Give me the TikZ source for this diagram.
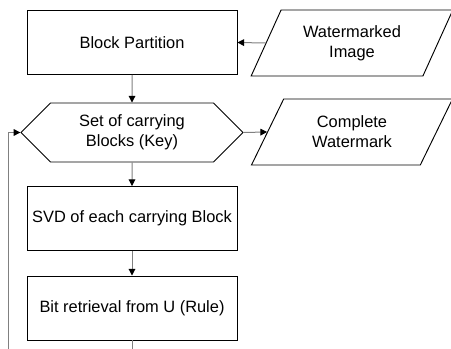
\documentclass[tikz,border=0pt]{standalone}
\usepackage{fontspec}
\setmainfont{Liberation Sans}
\usetikzlibrary{arrows.meta,shapes.geometric,shapes.symbols}
\tikzset{>={Triangle[length=5pt,width=5pt,color=black]}}
\tikzset{
  stepbox/.style={draw,line width=.7pt,minimum width=157.5pt,minimum height=48pt,align=center},
  databox/.style={draw,line width=.7pt,trapezium,trapezium left angle=63,trapezium right angle=117,
    trapezium stretches=true,minimum width=151.5pt,minimum height=49.5pt,align=center},
  keybox/.style={draw,line width=.7pt,signal,signal to=west and east,signal pointer angle=90,
    minimum width=166.5pt,minimum height=44.25pt,align=center},
  link/.style={gray,line width=.75pt,->}
}
\newcommand*{\txt}{\fontsize{12.3}{15}\selectfont}

\begin{document}
\begin{tikzpicture}[x=.75pt,y=-.75pt,font=\txt]
\useasboundingbox (0,0) rectangle (451,349);
\node[stepbox] (part) at (132,42.5) {Block Partition};
\node[databox] (wmimg) at (352,43) {Watermarked\\Image};
\node[keybox] (keys) at (132,132.5) {Set of carrying\\Blocks (Key)};
\node[databox] (cwm) at (352,132) {Complete\\Watermark};
\node[stepbox] (svd) at (132,218.5) {SVD of each carrying Block};
\node[stepbox] (bitret) at (132,308) {Bit retrieval from U (Rule)};
\coordinate (out) at (132,349);
\coordinate (loop) at (8,349);
\draw[link] (wmimg.west) -- (part.east);
\draw[link] (part) -- (keys);
\draw[link] (keys.east) -- (cwm.west);
\draw[link] (keys) -- (svd);
\draw[link] (svd) -- (bitret);
\draw[gray,line width=.75pt] (bitret) -- (out);
\draw[link] (loop) |- (keys.west);
\end{tikzpicture}
\end{document}
